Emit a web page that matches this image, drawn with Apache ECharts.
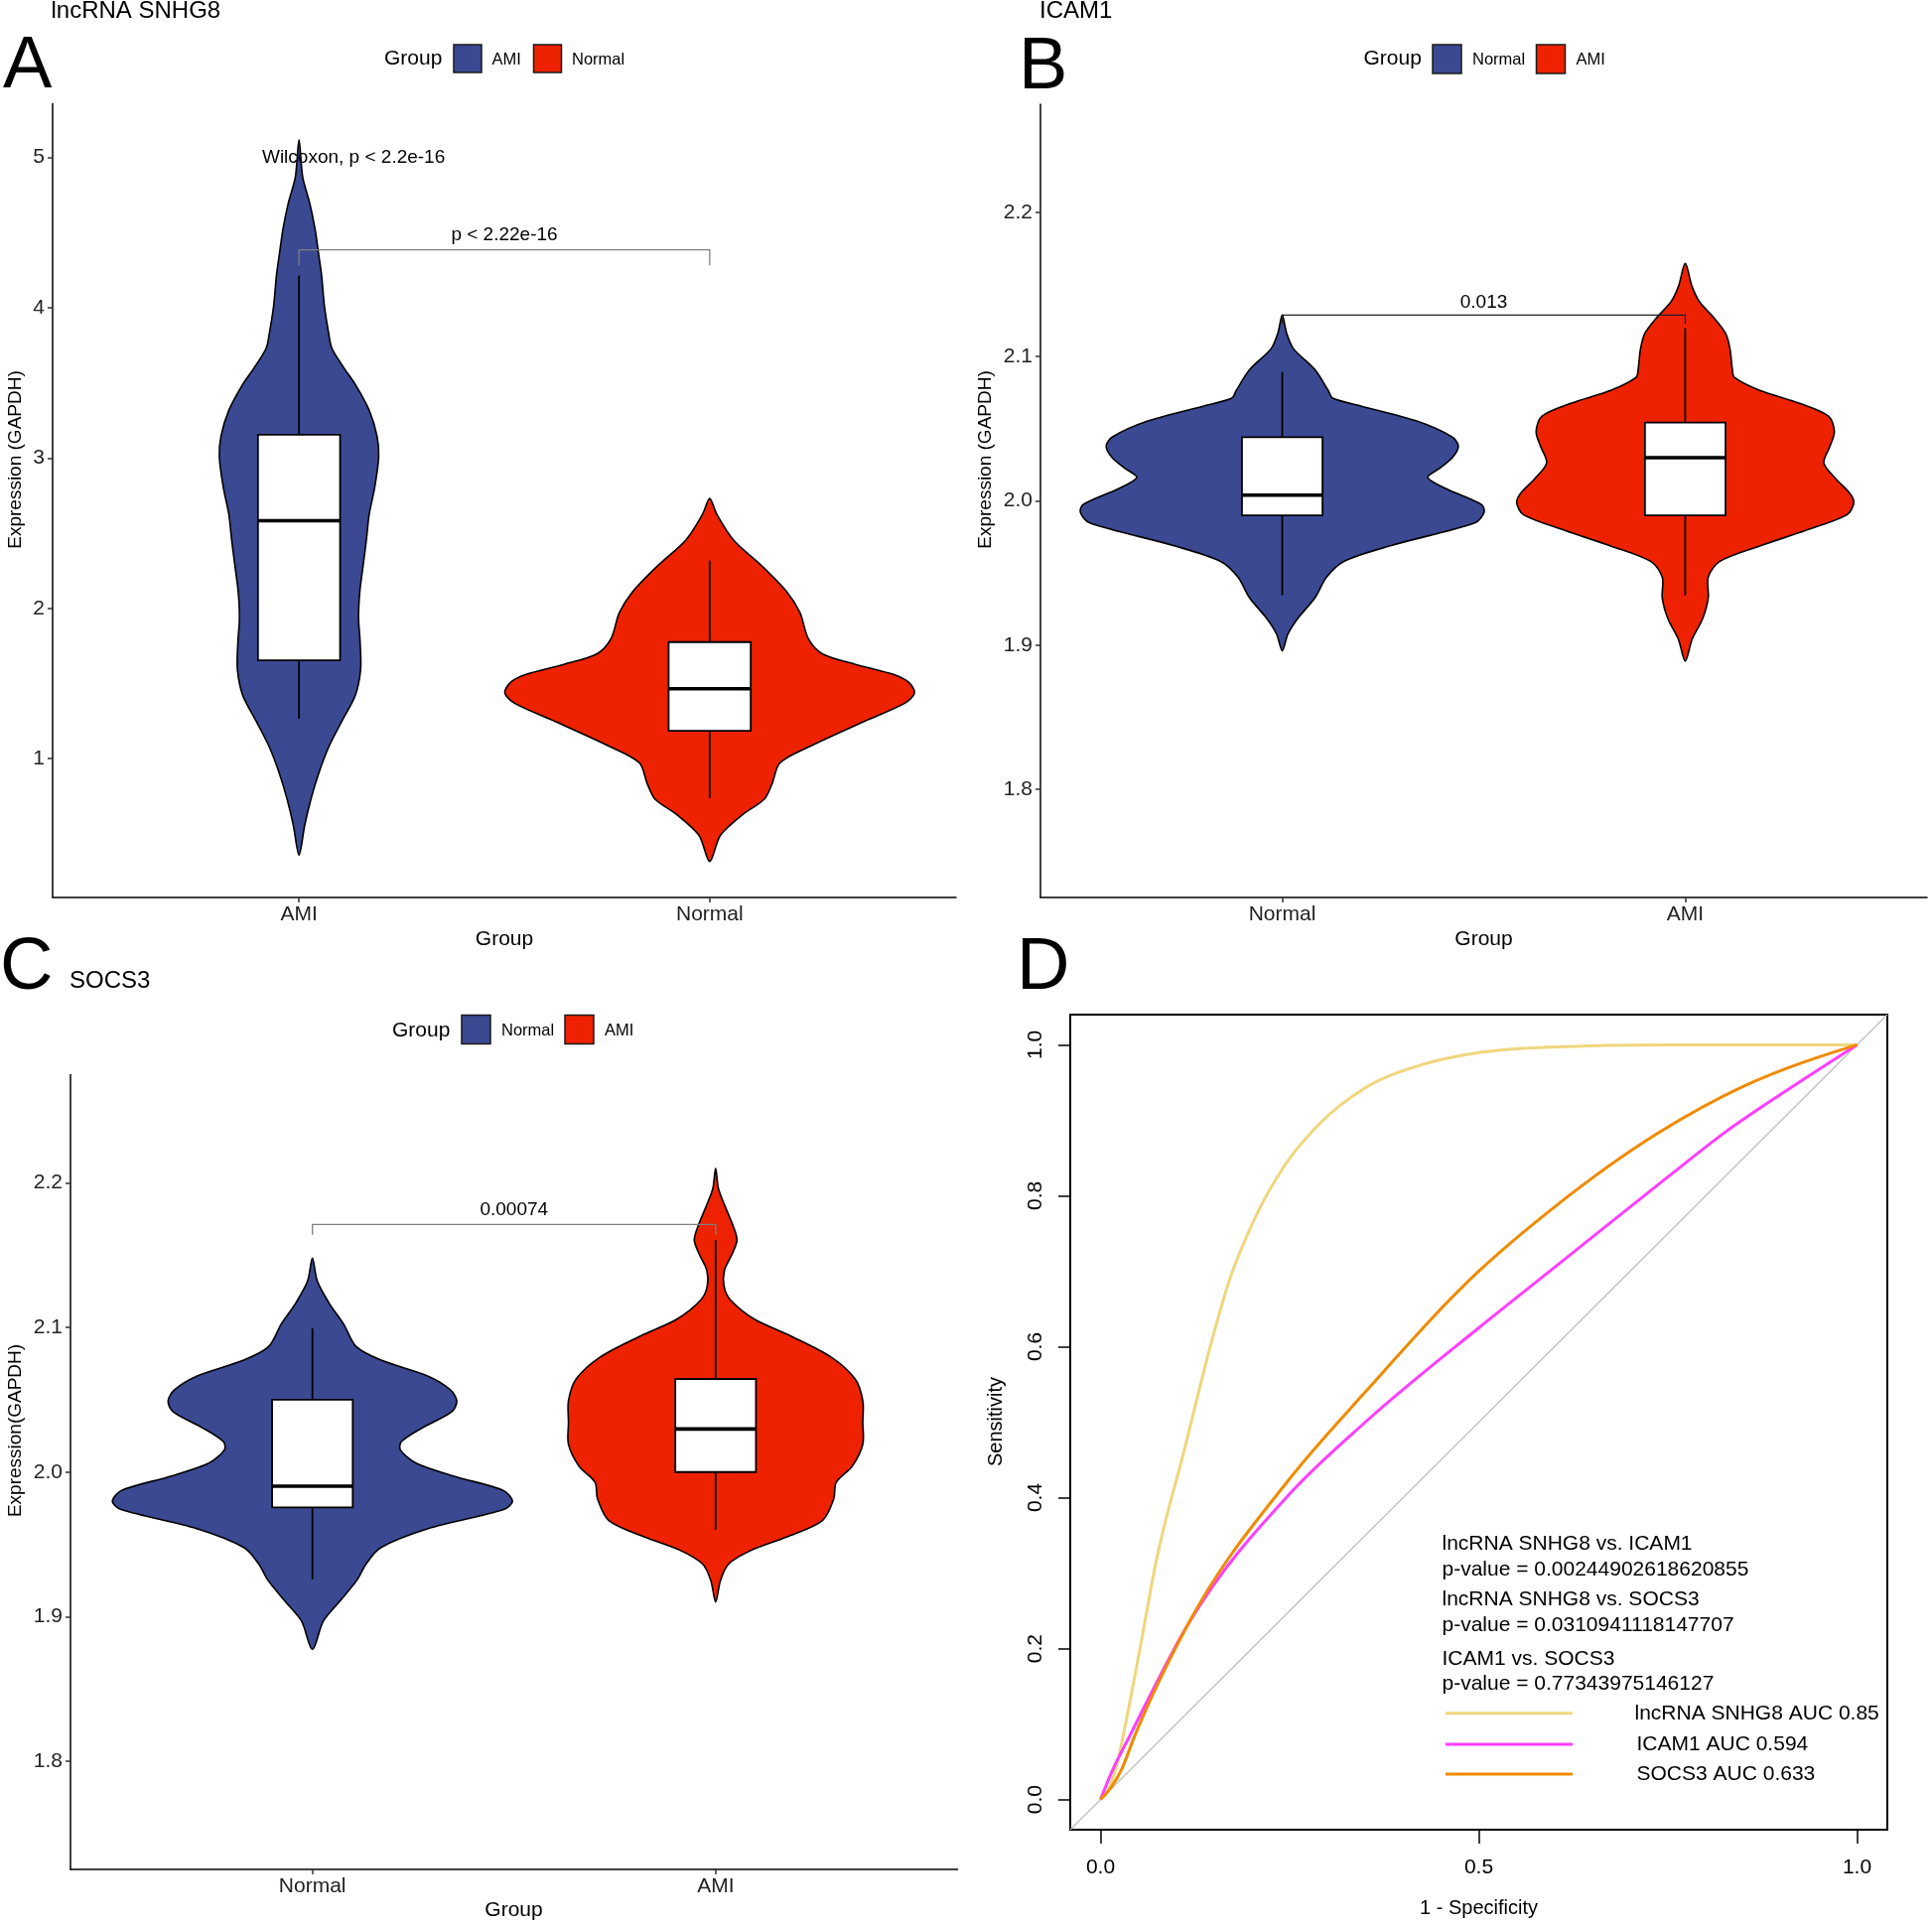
<!DOCTYPE html>
<html><head><meta charset="utf-8">
<script src="https://cdn.jsdelivr.net/npm/echarts@6/dist/echarts.min.js"></script>
<style>html,body{margin:0;padding:0;background:#fff}#c{width:1946px;height:1939px}</style>
</head><body><div id="c"></div>
<script>
const FONT = '"Liberation Sans", Arial, Helvetica, sans-serif';
const BLUE = '#3B4992', RED = '#EE2200';

// ---------- Panel A : lncRNA SNHG8 ----------
const catsA = ['AMI', 'Normal'];
const yTicksA = [1, 2, 3, 4, 5];
const violinA_AMI_val = [5.117, 4.869, 4.697, 4.524, 4.352, 4.214, 4.007, 3.834, 3.731, 3.593, 3.490, 3.317, 3.145, 3.007, 2.800, 2.628, 2.455, 2.283, 2.110, 1.938, 1.766, 1.593, 1.421, 1.248, 1.076, 0.903, 0.731, 0.559, 0.359];
const violinA_AMI_hw  = [0, 0.009, 0.026, 0.039, 0.048, 0.055, 0.062, 0.072, 0.080, 0.111, 0.137, 0.171, 0.190, 0.194, 0.184, 0.171, 0.164, 0.156, 0.148, 0.145, 0.149, 0.150, 0.137, 0.104, 0.072, 0.048, 0.029, 0.014, 0];
const violinA_Normal_val = [2.731, 2.628, 2.455, 2.283, 2.110, 1.972, 1.800, 1.697, 1.628, 1.559, 1.507, 1.438, 1.369, 1.248, 1.076, 0.972, 0.834, 0.731, 0.628, 0.490, 0.317];
const violinA_Normal_hw  = [0, 0.017, 0.058, 0.127, 0.188, 0.220, 0.240, 0.275, 0.355, 0.449, 0.485, 0.499, 0.475, 0.376, 0.239, 0.171, 0.152, 0.133, 0.080, 0.026, 0];
// [lower whisker, Q1, median, Q3, upper whisker]
const boxA = [[1.266, 1.655, 2.583, 3.155, 4.214], [0.738, 1.186, 1.466, 1.776, 2.317]];
const bracketA = [4.386, 4.283, 4.483]; // line y, tip y, label y
const bracketLabelA = 'p < 2.22e-16';
const testLabelA = 'Wilcoxon, p < 2.2e-16';
const testPosA = [0.91, 5.0];

// ---------- Panel B : ICAM1 ----------
const catsB = ['Normal', 'AMI'];
const yTicksB = [1.8, 1.9, 2.0, 2.1, 2.2];
const violinB_Normal_val = [2.1288, 2.1162, 2.1054, 2.0910, 2.0766, 2.0712, 2.0658, 2.0550, 2.0442, 2.0378, 2.0299, 2.0227, 2.0162, 2.0083, 1.9975, 1.9921, 1.9849, 1.9687, 1.9579, 1.9471, 1.9327, 1.9183, 1.9076, 1.8960];
const violinB_Normal_hw  = [0, 0.011, 0.028, 0.081, 0.114, 0.125, 0.195, 0.337, 0.422, 0.437, 0.422, 0.391, 0.361, 0.408, 0.494, 0.501, 0.479, 0.266, 0.152, 0.110, 0.081, 0.038, 0.014, 0];
const violinB_AMI_val = [2.1647, 2.1486, 2.1378, 2.1270, 2.1162, 2.1054, 2.0910, 2.0856, 2.0766, 2.0676, 2.0586, 2.0478, 2.0371, 2.0263, 2.0155, 2.0047, 1.9982, 1.9903, 1.9795, 1.9687, 1.9579, 1.9471, 1.9327, 1.9183, 1.9040, 1.8889];
const violinB_AMI_hw  = [0, 0.017, 0.036, 0.071, 0.100, 0.111, 0.117, 0.122, 0.185, 0.284, 0.356, 0.370, 0.358, 0.344, 0.373, 0.410, 0.418, 0.401, 0.299, 0.185, 0.085, 0.057, 0.057, 0.043, 0.017, 0];
const boxB = [[1.9345, 1.990, 2.004, 2.0442, 2.0892], [1.9345, 1.990, 2.0299, 2.0543, 2.1198]];
const bracketB = [2.1288, 2.1227, 2.1378];
const bracketLabelB = '0.013';

// ---------- Panel C : SOCS3 ----------
const catsC = ['Normal', 'AMI'];
const yTicksC = [1.8, 1.9, 2.0, 2.1, 2.2];
const violinC_Normal_val = [2.1480, 2.1322, 2.1171, 2.1021, 2.0870, 2.0776, 2.0663, 2.0569, 2.0493, 2.0418, 2.0305, 2.0211, 2.0154, 2.0060, 1.9966, 1.9872, 1.9797, 1.9740, 1.9608, 1.9476, 1.9363, 1.9250, 1.9100, 1.8968, 1.8772];
const violinC_Normal_hw  = [0, 0.012, 0.041, 0.078, 0.108, 0.169, 0.287, 0.342, 0.358, 0.346, 0.272, 0.221, 0.218, 0.258, 0.358, 0.474, 0.496, 0.474, 0.287, 0.169, 0.133, 0.110, 0.066, 0.027, 0];
const violinC_AMI_val = [2.2102, 2.1962, 2.1849, 2.1699, 2.1605, 2.1510, 2.1397, 2.1284, 2.1190, 2.1058, 2.0945, 2.0795, 2.0644, 2.0493, 2.0343, 2.0192, 2.0041, 1.9928, 1.9815, 1.9665, 1.9552, 1.9458, 1.9363, 1.9250, 1.9100];
const violinC_AMI_hw  = [0, 0.007, 0.022, 0.044, 0.053, 0.041, 0.022, 0.021, 0.037, 0.096, 0.184, 0.287, 0.346, 0.365, 0.365, 0.365, 0.339, 0.299, 0.293, 0.265, 0.177, 0.088, 0.032, 0.012, 0];
const boxC = [[1.9258, 1.9755, 1.9902, 2.0501, 2.0994], [1.9601, 2.0, 2.0298, 2.0644, 2.1605]];
const bracketC = [2.1714, 2.1642, 2.1812];
const bracketLabelC = '0.00074';

// ---------- Panel D : ROC ----------
const xTicksD = [0, 0.5, 1];
const yTicksD = [0, 0.2, 0.4, 0.6, 0.8, 1.0];
const diagRef = [[-0.04, -0.04], [1.04, 1.04]];
const rocSNHG8_x = [0, 0.008, 0.02, 0.035, 0.054, 0.073, 0.111, 0.149, 0.171, 0.202, 0.244, 0.289, 0.35, 0.426, 0.502, 0.593, 0.744, 1];
const rocSNHG8_y = [0, 0.008, 0.04, 0.11, 0.21, 0.313, 0.464, 0.615, 0.690, 0.766, 0.841, 0.895, 0.943, 0.974, 0.990, 0.997, 1.0, 1.0];
const rocICAM1_x = [0, 0.016, 0.039, 0.115, 0.25, 0.35, 0.5, 0.6, 0.75, 0.824, 0.9, 1];
const rocICAM1_y = [0, 0.039, 0.085, 0.231, 0.405, 0.50, 0.625, 0.705, 0.825, 0.883, 0.935, 1];
const rocSOCS3_x = [0, 0.0275, 0.0445, 0.115, 0.25, 0.35, 0.5, 0.6, 0.737, 0.85, 1];
const rocSOCS3_y = [0, 0.039, 0.0825, 0.231, 0.425, 0.54, 0.70, 0.785, 0.883, 0.945, 1];
const rocNames = ['lncRNA SNHG8 AUC 0.85', 'ICAM1 AUC 0.594', 'SOCS3 AUC 0.633'];
const rocColors = ['#F0D67C', '#FF3DFF', '#F08A00'];
const compTexts = ['lncRNA SNHG8 vs. ICAM1', 'p-value = 0.00244902618620855',
                   'lncRNA SNHG8 vs. SOCS3', 'p-value = 0.0310941118147707',
                   'ICAM1 vs. SOCS3', 'p-value = 0.77343975146127'];

// ---------- helpers ----------
const BW = 0.1;
function violinSeries(idx, pos, vals, hws, color, name) {
  return {
    type: 'custom', name: name, xAxisIndex: idx, yAxisIndex: idx, silent: true, z: 2,
    data: [[pos, vals[0]]],
    renderItem: function (params, api) {
      const pts = [];
      for (let i = 0; i < vals.length; i++) pts.push(api.coord([pos + hws[i], vals[i]]));
      for (let i = vals.length - 2; i >= 1; i--) pts.push(api.coord([pos - hws[i], vals[i]]));
      return { type: 'polygon', shape: { points: pts, smooth: 0.3 },
               style: { fill: color, stroke: '#000', lineWidth: 1.6 } };
    }
  };
}
function boxSeries(idx, boxes) {
  return {
    type: 'custom', xAxisIndex: idx, yAxisIndex: idx, silent: true, z: 3,
    data: boxes.map((b, i) => [i + 1].concat(b)),
    renderItem: function (params, api) {
      const p = api.value(0), lo = api.value(1), q1 = api.value(2), md = api.value(3), q3 = api.value(4), hi = api.value(5);
      const c = (x, y) => api.coord([x, y]);
      const a = c(p, hi), b = c(p, q3), d = c(p, q1), e = c(p, lo);
      const tl = c(p - BW, q3), br = c(p + BW, q1), m1 = c(p - BW, md), m2 = c(p + BW, md);
      return { type: 'group', children: [
        { type: 'line', shape: { x1: a[0], y1: a[1], x2: b[0], y2: b[1] }, style: { stroke: '#000', lineWidth: 1.8 } },
        { type: 'line', shape: { x1: d[0], y1: d[1], x2: e[0], y2: e[1] }, style: { stroke: '#000', lineWidth: 1.8 } },
        { type: 'rect', shape: { x: tl[0], y: tl[1], width: br[0] - tl[0], height: br[1] - tl[1] }, style: { fill: '#fff', stroke: '#000', lineWidth: 1.8 } },
        { type: 'line', shape: { x1: m1[0], y1: m1[1], x2: m2[0], y2: m2[1] }, style: { stroke: '#000', lineWidth: 3.6 } }
      ] };
    }
  };
}
function bracketSeries(idx, br, label, color) {
  return {
    type: 'custom', xAxisIndex: idx, yAxisIndex: idx, silent: true, z: 4,
    data: [[1.5, br[0]]],
    renderItem: function (params, api) {
      const p1 = api.coord([1, br[1]]), p2 = api.coord([1, br[0]]), p3 = api.coord([2, br[0]]), p4 = api.coord([2, br[1]]);
      const t = api.coord([1.5, br[2]]);
      return { type: 'group', children: [
        { type: 'polyline', shape: { points: [p1, p2, p3, p4] }, style: { stroke: color, lineWidth: 1.3, fill: null } },
        { type: 'text', x: t[0], y: t[1], style: { text: label, fontSize: 19, fontFamily: FONT, fill: '#000', align: 'center', verticalAlign: 'middle' } }
      ] };
    }
  };
}
function textSeries(idx, pos, label) {
  return {
    type: 'custom', xAxisIndex: idx, yAxisIndex: idx, silent: true, z: 5,
    data: [pos],
    renderItem: function (params, api) {
      const t = api.coord([api.value(0), api.value(1)]);
      return { type: 'text', x: t[0], y: t[1], style: { text: label, fontSize: 19, fontFamily: FONT, fill: '#000', align: 'left', verticalAlign: 'middle' } };
    }
  };
}
// ROC curve drawn through its read points with a monotone cubic (no overshoot)
function rocSeries(name, xs, ys, color, z) {
  return {
    type: 'custom', name: name, xAxisIndex: 3, yAxisIndex: 3, silent: true, z: z,
    data: xs.map((x, i) => [x, ys[i]]),
    renderItem: function (params, api) {
      if (params.dataIndex !== 0) return null;
      const n = xs.length, h = [], s = [], m = new Array(n);
      for (let i = 0; i < n - 1; i++) { h[i] = xs[i + 1] - xs[i]; s[i] = (ys[i + 1] - ys[i]) / h[i]; }
      for (let i = 1; i < n - 1; i++) {
        const s0 = s[i - 1], s1 = s[i];
        if (s0 * s1 <= 0) m[i] = 0;
        else {
          const p = (s0 * h[i] + s1 * h[i - 1]) / (h[i - 1] + h[i]);
          m[i] = (Math.sign(s0) + Math.sign(s1)) * Math.min(Math.abs(s0), Math.abs(s1), 0.5 * Math.abs(p));
        }
      }
      m[0] = (3 * s[0] - m[1]) / 2;
      m[n - 1] = (3 * s[n - 2] - m[n - 2]) / 2;
      const P = api.coord([xs[0], ys[0]]);
      let d = 'M' + P[0] + ' ' + P[1];
      for (let i = 0; i < n - 1; i++) {
        const c1 = api.coord([xs[i] + h[i] / 3, ys[i] + m[i] * h[i] / 3]);
        const c2 = api.coord([xs[i + 1] - h[i] / 3, ys[i + 1] - m[i + 1] * h[i] / 3]);
        const q = api.coord([xs[i + 1], ys[i + 1]]);
        d += ' C' + c1[0] + ' ' + c1[1] + ' ' + c2[0] + ' ' + c2[1] + ' ' + q[0] + ' ' + q[1];
      }
      return { type: 'path', shape: { pathData: d }, style: { stroke: color, lineWidth: 3, fill: 'none' } };
    }
  };
}
function catXAxis(idx, cats) {
  return {
    gridIndex: idx, type: 'value', min: 0.4, max: 2.6,
    axisLine: { show: true, onZero: false, lineStyle: { color: '#000', width: 1.5 } },
    axisTick: { show: true, customValues: [1, 2], length: 5, lineStyle: { color: '#333', width: 1.5 } },
    axisLabel: { customValues: [1, 2], formatter: v => cats[Math.round(v) - 1], color: '#222', fontSize: 21, margin: 7, fontFamily: FONT },
    splitLine: { show: false }
  };
}
function valYAxis(idx, min, max, ticks, dec) {
  return {
    gridIndex: idx, type: 'value', min: min, max: max,
    axisLine: { show: true, onZero: false, lineStyle: { color: '#000', width: 1.5 } },
    axisTick: { show: true, customValues: ticks, length: 5, lineStyle: { color: '#333', width: 1.5 } },
    axisLabel: { customValues: ticks, formatter: v => v.toFixed(dec), color: '#222', fontSize: 21, margin: 8, fontFamily: FONT },
    splitLine: { show: false }
  };
}
function T(x, y, text, size, align, rot) {
  const o = { type: 'text', x: x, y: y, silent: true,
    style: { text: text, fontSize: size, fontFamily: FONT, fill: '#000', align: align || 'left', verticalAlign: 'middle' } };
  if (rot) o.rotation = rot;
  return o;
}
function R(x, y, w, h, color) {
  return { type: 'rect', silent: true, shape: { x: x, y: y, width: w, height: h }, style: { fill: color, stroke: '#1a1a1a', lineWidth: 1.5 } };
}
function L(x1, x2, y, color) {
  return { type: 'line', silent: true, shape: { x1: x1, y1: y, x2: x2, y2: y }, style: { stroke: color, lineWidth: 3 } };
}

const series = [
  violinSeries(0, 1, violinA_AMI_val, violinA_AMI_hw, BLUE, 'AMI'),
  violinSeries(0, 2, violinA_Normal_val, violinA_Normal_hw, RED, 'Normal'),
  boxSeries(0, boxA),
  bracketSeries(0, bracketA, bracketLabelA, '#808080'),
  textSeries(0, testPosA, testLabelA),

  violinSeries(1, 1, violinB_Normal_val, violinB_Normal_hw, BLUE, 'Normal'),
  violinSeries(1, 2, violinB_AMI_val, violinB_AMI_hw, RED, 'AMI'),
  boxSeries(1, boxB),
  bracketSeries(1, bracketB, bracketLabelB, '#222'),

  violinSeries(2, 1, violinC_Normal_val, violinC_Normal_hw, BLUE, 'Normal'),
  violinSeries(2, 2, violinC_AMI_val, violinC_AMI_hw, RED, 'AMI'),
  boxSeries(2, boxC),
  bracketSeries(2, bracketC, bracketLabelC, '#808080'),

  { type: 'line', xAxisIndex: 3, yAxisIndex: 3, data: diagRef, showSymbol: false, silent: true,
    lineStyle: { color: '#BEBEBE', width: 1.2 }, z: 1 },
  rocSeries(rocNames[0], rocSNHG8_x, rocSNHG8_y, rocColors[0], 2),
  rocSeries(rocNames[1], rocICAM1_x, rocICAM1_y, rocColors[1], 3),
  rocSeries(rocNames[2], rocSOCS3_x, rocSOCS3_y, rocColors[2], 4)
];

const graphic = [
  // panel letters and titles
  T(3, 68, 'A', 74), T(1026, 68.5, 'B', 74), T(0, 976, 'C', 74), T(1024, 976, 'D', 74),
  T(51.5, 11, 'lncRNA SNHG8', 24), T(1047, 11, 'ICAM1', 24), T(70, 988, 'SOCS3', 24),
  // legend A
  T(387, 59.5, 'Group', 21), R(457, 45, 28, 28, BLUE), T(495.5, 60, catsA[0], 16.5), R(537.5, 45, 28, 28, RED), T(576, 60, catsA[1], 16.5),
  // legend B
  T(1373.5, 59.5, 'Group', 21), R(1443, 45, 29, 29, BLUE), T(1483, 60, catsB[0], 16.5), R(1547.5, 45, 29, 29, RED), T(1587.5, 60, catsB[1], 16.5),
  // legend C
  T(395, 1038, 'Group', 21), R(465, 1022.5, 29, 29, BLUE), T(505, 1038.5, catsC[0], 16.5), R(569, 1022.5, 29, 29, RED), T(609, 1038.5, catsC[1], 16.5),
  // axis titles
  T(16, 463, 'Expression (GAPDH)', 19, 'center', Math.PI / 2),
  T(993, 463, 'Expression (GAPDH)', 19, 'center', Math.PI / 2),
  T(16, 1441, 'Expression(GAPDH)', 19, 'center', Math.PI / 2),
  T(508, 946, 'Group', 21, 'center'), T(1494.5, 946, 'Group', 21, 'center'), T(517.5, 1924, 'Group', 21, 'center'),
  T(1003, 1432, 'Sensitivity', 20, 'center', Math.PI / 2), T(1489.5, 1922, '1 - Specificity', 20, 'center'),
  // D legend
  T(1452.5, 1555.5, compTexts[0], 21), T(1452.5, 1581, compTexts[1], 21),
  T(1452.5, 1611.5, compTexts[2], 21), T(1452.5, 1637.5, compTexts[3], 21),
  T(1452.5, 1671, compTexts[4], 21), T(1452.5, 1696, compTexts[5], 21),
  L(1456, 1584, 1725.7, rocColors[0]), L(1456, 1584, 1757, rocColors[1]), L(1456, 1584, 1787, rocColors[2]),
  T(1646.5, 1726, rocNames[0], 21), T(1648.5, 1757.5, rocNames[1], 21), T(1648.5, 1787.5, rocNames[2], 21)
];

const option = {
  animation: false,
  backgroundColor: '#fff',
  textStyle: { fontFamily: FONT },
  grid: [
    { left: 53, top: 104.5, width: 910, height: 799.5 },
    { left: 1048, top: 105, width: 893, height: 799 },
    { left: 71, top: 1082.5, width: 893.5, height: 800.5 },
    { left: 1078, top: 1022, width: 823, height: 821, show: true, borderColor: '#000', borderWidth: 2, backgroundColor: 'rgba(0,0,0,0)' }
  ],
  xAxis: [
    catXAxis(0, catsA), catXAxis(1, catsB), catXAxis(2, catsC),
    { gridIndex: 3, type: 'value', min: -0.04, max: 1.04,
      axisLine: { show: false, onZero: false },
      axisTick: { show: true, customValues: xTicksD, length: 14, lineStyle: { color: '#000', width: 1.5 } },
      axisLabel: { customValues: xTicksD, formatter: v => v.toFixed(1), color: '#000', fontSize: 21, margin: 28, fontFamily: FONT },
      splitLine: { show: false } }
  ],
  yAxis: [
    valYAxis(0, 0.077, 5.357, yTicksA, 0),
    valYAxis(1, 1.725, 2.275, yTicksB, 1),
    valYAxis(2, 1.725, 2.275, yTicksC, 1),
    { gridIndex: 3, type: 'value', min: -0.04, max: 1.04,
      axisLine: { show: false, onZero: false },
      axisTick: { show: true, customValues: yTicksD, length: 12, lineStyle: { color: '#000', width: 1.5 } },
      axisLabel: { customValues: yTicksD, formatter: v => v.toFixed(1), rotate: 90, color: '#000', fontSize: 21, margin: 24, fontFamily: FONT },
      splitLine: { show: false } }
  ],
  series: series,
  graphic: graphic
};
const chart = echarts.init(document.getElementById('c'), null, { renderer: 'canvas' });
chart.setOption(option);
</script></body></html>
